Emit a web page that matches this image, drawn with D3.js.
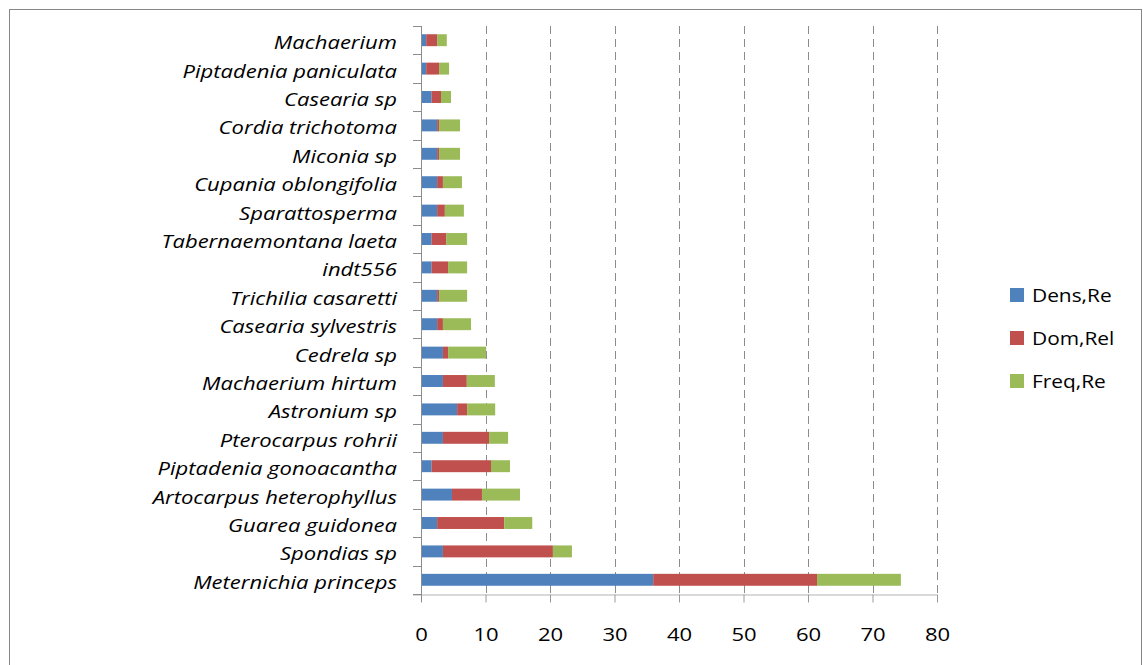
<!DOCTYPE html>
<html><head><meta charset="utf-8">
<script src="https://cdn.jsdelivr.net/npm/d3@7"></script>
<style>
html,body{margin:0;padding:0;background:#fff;}
svg{display:block;font-family:"Open Sans",sans-serif;}
</style></head>
<body>
<script>
const categories = ["Machaerium","Piptadenia paniculata","Casearia sp","Cordia trichotoma","Miconia sp","Cupania oblongifolia","Sparattosperma","Tabernaemontana laeta","indt556","Trichilia casaretti","Casearia sylvestris","Cedrela sp","Machaerium hirtum","Astronium sp","Pterocarpus rohrii","Piptadenia gonoacantha","Artocarpus heterophyllus","Guarea guidonea","Spondias sp","Meternichia princeps"];
const densRe  = [0.8,0.8,1.65,2.5,2.5,2.5,2.5,1.65,1.65,2.5,2.5,3.4,3.4,5.6,3.4,1.65,4.8,2.5,3.4,36.0];
const domRel  = [1.7,2.0,1.45,0.3,0.3,0.9,1.2,2.25,2.55,0.3,0.9,0.8,3.7,1.55,7.15,9.2,4.65,10.4,17.05,25.4];
const freqRe  = [1.5,1.55,1.55,3.25,3.25,2.95,2.95,3.25,2.95,4.35,4.35,5.9,4.35,4.35,2.95,2.95,5.9,4.35,2.95,13.0];
const seriesNames = ["Dens,Re","Dom,Rel","Freq,Re"];
const colors = ["#4f81bd","#c0504d","#9bbb59"];
const xTicks = [0,10,20,30,40,50,60,70,80];

const W = 1143, H = 665;
const SX = 1.16; // horizontal stretch of text, as in the reference
const svg = d3.select("body").append("svg").attr("width",W).attr("height",H);

svg.append("rect").attr("x",9.5).attr("y",9.5).attr("width",1132).attr("height",670)
  .attr("fill","#fff").attr("stroke","#868686").attr("stroke-width",1);

const x0 = 421, x1 = 937, yTop = 26, yBot = 594;
const x = d3.scaleLinear().domain([0,80]).range([x0,x1]);
const y = d3.scaleBand().domain(categories).range([yTop,yBot]).paddingInner(0.58).paddingOuter(0.29);

// gridlines
svg.append("g").selectAll("line").data(xTicks.filter(d=>d>0)).join("line")
  .attr("x1",d=>Math.round(x(d))+0.5).attr("x2",d=>Math.round(x(d))+0.5)
  .attr("y1",yTop).attr("y2",yBot)
  .attr("stroke","#8c8c8c").attr("stroke-width",1).attr("stroke-dasharray","8,5");

// stacked bars
const rows = categories.map((c,i)=>({cat:c, "Dens,Re":densRe[i], "Dom,Rel":domRel[i], "Freq,Re":freqRe[i]}));
const stack = d3.stack().keys(seriesNames)(rows);
svg.append("g").selectAll("g").data(stack).join("g")
  .attr("fill",(d,i)=>colors[i])
  .selectAll("rect").data(d=>d).join("rect")
  .attr("x",d=>x(d[0])).attr("width",d=>x(d[1])-x(d[0]))
  .attr("y",d=>y(d.data.cat)).attr("height",y.bandwidth());

// x axis
const xAxis = d3.axisBottom(x).tickValues(xTicks).tickSize(8).tickFormat(d3.format("d"));
const gx = svg.append("g").attr("transform",`translate(0,${yBot+0.5})`).call(xAxis);
gx.select(".domain").attr("stroke","#b3b3b3").attr("d",`M${x0-8},0.5H${x1+0}`);
gx.selectAll(".tick line").attr("stroke","#9a9a9a");
gx.selectAll(".tick text").attr("font-family","Open Sans").attr("font-size",19).attr("fill","#000")
  .attr("y",0).attr("dy",0)
  .attr("transform",`translate(0,46) scale(${SX},1)`);

// y axis line and ticks between categories
const step = y.step();
const bounds = d3.range(categories.length+1).map(i=>yTop + i*step);
svg.append("line").attr("x1",x0+0.5).attr("x2",x0+0.5).attr("y1",yTop).attr("y2",yBot+8).attr("stroke","#8c8c8c");
svg.append("g").selectAll("line").data(bounds).join("line")
  .attr("x1",x0-8).attr("x2",x0).attr("y1",d=>Math.round(d)+0.5).attr("y2",d=>Math.round(d)+0.5)
  .attr("stroke","#8c8c8c");

// category labels
svg.append("g").selectAll("text").data(categories).join("text")
  .attr("transform",d=>`translate(397,${y(d)+y.bandwidth()/2+9}) scale(${SX},1)`)
  .attr("text-anchor","end").attr("font-style","italic").attr("font-size",19).attr("fill","#000")
  .text(d=>d);

// legend
const lg = svg.append("g");
seriesNames.forEach((s,i)=>{
  const cy = 295 + i*43;
  lg.append("rect").attr("x",1010).attr("y",cy-7).attr("width",14).attr("height",14).attr("fill",colors[i]);
  lg.append("text").attr("transform",`translate(1032,${cy+6.5}) scale(${SX},1)`)
    .attr("font-size",18).attr("fill","#000").text(s);
});
</script>
</body></html>
